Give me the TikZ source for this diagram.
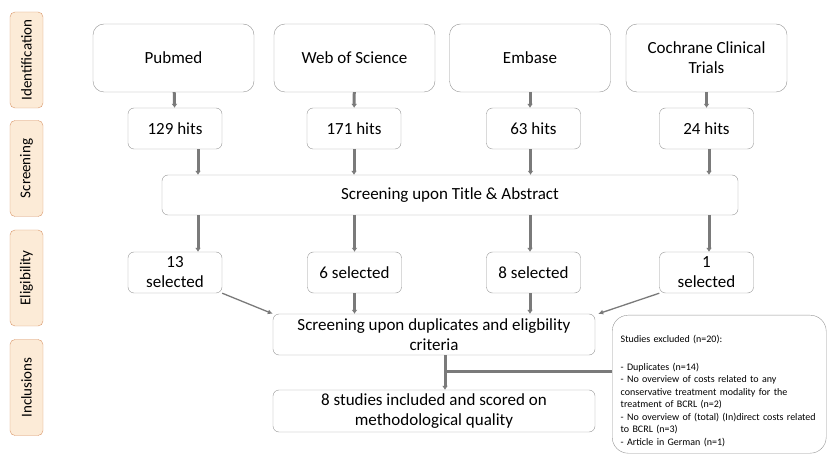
\documentclass[tikz,border=0pt]{standalone}
\usepackage{fontspec}
\setmainfont{Carlito}
\usetikzlibrary{arrows.meta}
\definecolor{boxgray}{HTML}{959595}
\definecolor{arrgray}{HTML}{7A7A7A}
\definecolor{phaseline}{HTML}{D9976A}
\definecolor{phasefill}{HTML}{FCEBD7}
\tikzstyle{box} = [draw=boxgray,rounded corners=6pt,inner sep=2pt,align=center,font=\fontsize{17}{20}\selectfont]
\tikzstyle{dbbox} = [box,minimum width=161pt,minimum height=68pt,rounded corners=11pt]
\tikzstyle{small} = [box,minimum width=94pt,minimum height=41pt]
\tikzstyle{wide} = [box,minimum width=322pt,minimum height=41pt]
\tikzstyle{phase} = [draw=phaseline,fill=phasefill,rounded corners=5pt,rotate=90,minimum width=96pt,minimum height=33pt,inner sep=0pt,font=\fontsize{15}{17}\selectfont]
\tikzstyle{arr} = [draw=arrgray,line width=3pt,-{Latex[length=4pt,width=6pt]}]
\tikzstyle{thin} = [draw=arrgray,line width=1.3pt,-{Latex[length=5pt,width=5pt]}]

\begin{document}
\begin{tikzpicture}[x=1pt,y=-1pt]
\useasboundingbox (0,0) rectangle (828,457);

% phases
\node[phase] (pid) at (26.5,60) {Identification};
\node[phase] (psc) at (26.5,168.5) {Screening};
\node[phase] (pel) at (26.5,278) {Eligibility};
\node[phase] (pin) at (26.5,387.5) {Inclusions};

% databases
\node[dbbox] (pub) at (173.5,58) {Pubmed};
\node[dbbox] (wos) at (354.5,58) {Web of Science};
\node[dbbox] (emb) at (530,58) {Embase};
\node[dbbox] (coc) at (706.5,58) {Cochrane Clinical\\Trials};

\node[small] (h1) at (175,128.5) {129 hits};
\node[small] (h2) at (354,128.5) {171 hits};
\node[small] (h3) at (533.5,128.5) {63 hits};
\node[small] (h4) at (706.5,128.5) {24 hits};

\node[box,minimum width=576pt,minimum height=40pt] (scr) at (450,195) {Screening upon Title \& Abstract};

\node[small] (s1) at (175,272.5) {13\\selected};
\node[small] (s2) at (354.5,272.5) {6 selected};
\node[small] (s3) at (533.5,272.5) {8 selected};
\node[small] (s4) at (706.5,272.5) {1\\selected};

\node[wide] (dup) at (434,334.5) {Screening upon duplicates and eligbility\\criteria};
\node[wide,minimum height=42pt] (fin) at (434,411) {8 studies included and scored on\\methodological quality};

\node[draw=boxgray,rounded corners=16pt,anchor=north west,text width=197pt,inner xsep=8.5pt,inner ysep=0pt,align=left,font=\fontsize{10}{12.5}\selectfont] (exc) at (612,315) {\rule{0pt}{27pt}Studies excluded (n=20):\\[15.5pt]
- Duplicates (n=14)\\
- No overview of costs related to any\\
conservative treatment modality for the\\
treatment of BCRL (n=2)\\
- No overview of (total) (In)direct costs related\\
to BCRL (n=3)\\
- Article in German (n=1)\rule[-8pt]{0pt}{8pt}};

% arrows
\draw[arr] (pub) -- (h1);
\draw[arr] (wos) -- (h2);
\draw[arr] (emb.south) -- (emb.south |- h3.north);
\draw[arr] (coc) -- (h4);

\draw[arr] ([xshift=23pt]h1.south) -- ([xshift=23pt]h1.south |- scr.north);
\draw[arr] (h2.south) -- (h2.south |- scr.north);
\draw[arr] ([xshift=-3pt]h3.south) -- ([xshift=-3pt]h3.south |- scr.north);
\draw[arr] ([xshift=2.5pt]h4.south) -- ([xshift=2.5pt]h4.south |- scr.north);

\draw[arr] ([xshift=23pt]s1.north |- scr.south) -- ([xshift=23pt]s1.north);
\draw[arr] (s2.north |- scr.south) -- (s2.north);
\draw[arr] ([xshift=-3.5pt]s3.north |- scr.south) -- ([xshift=-3.5pt]s3.north);
\draw[arr] ([xshift=2.5pt]s4.north |- scr.south) -- ([xshift=2.5pt]s4.north);

\draw[thin] (s1.south east) -- (dup.north west);
\draw[arr] (s2.south) -- (s2.south |- dup.north);
\draw[arr] ([xshift=-3.5pt]s3.south) -- ([xshift=-3.5pt]s3.south |- dup.north);
\draw[thin] (s4.south west) -- ([xshift=3pt]dup.north east);

\coordinate (br) at ([xshift=11pt,yshift=-16pt]dup.south);
\draw[arr] ([xshift=11pt]dup.south) -- ([xshift=11pt]fin.north);
\draw[arrgray,line width=3pt] (br) -- (br -| exc.west);

\end{tikzpicture}
\end{document}
